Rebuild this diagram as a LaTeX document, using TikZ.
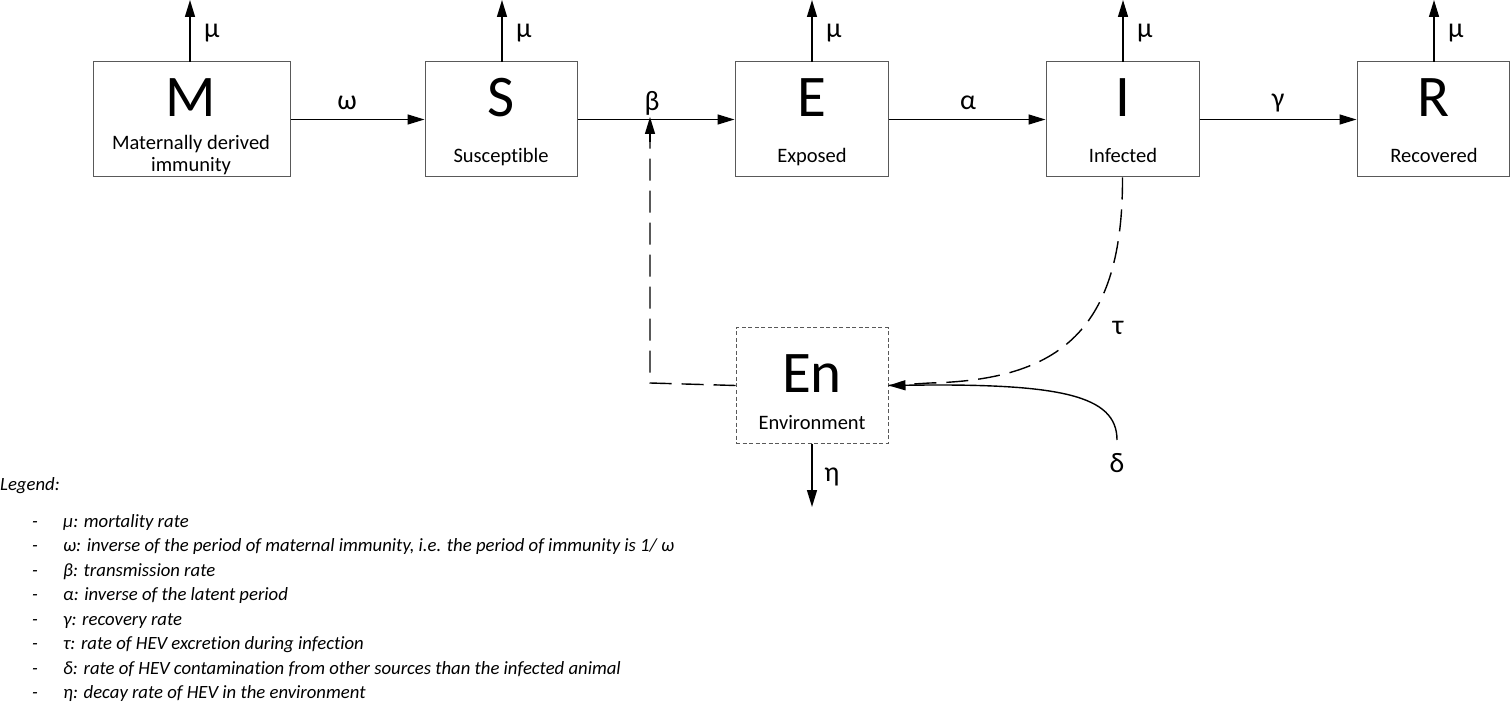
\documentclass[tikz,border=0pt]{standalone}
\usepackage{fontspec}
\setmainfont[Ligatures=NoCommon]{Carlito}
\usetikzlibrary{arrows.meta}
\begin{document}
\begin{tikzpicture}[x=1pt,y=-1pt,
  comp/.style={draw=black!65, line width=1pt, minimum height=115pt, inner sep=0pt},
  envbox/.style={comp, dash pattern=on 4pt off 2.5pt},
  big/.style={font=\fontsize{59}{59}\selectfont, anchor=base, inner sep=0pt},
  sub/.style={font=\fontsize{20.5}{24}\selectfont, anchor=base, inner sep=0pt},
  rate/.style={font=\fontsize{28}{28}\selectfont, inner sep=0pt},
  flow/.style={line width=1.4pt, -{Triangle[length=17pt,width=10pt]}},
  fb/.style={line width=1.4pt, dash pattern=on 22pt off 10pt},
  leg/.style={font=\fontsize{18.7}{19}\selectfont\itshape, anchor=base west, inner sep=0pt},
]
\useasboundingbox (0,0) rectangle (1510,703);

% compartments
\node[comp, minimum width=197pt] (M) at (191.5,119.5) {};
\node[comp, minimum width=152pt] (S) at (501,119.5) {};
\node[comp, minimum width=153pt] (E) at (811.5,119.5) {};
\node[comp, minimum width=153pt] (I) at (1122.5,119.5) {};
\node[comp, minimum width=152pt] (R) at (1433,119.5) {};
\node[envbox, minimum width=152pt] (En) at (812,385.5) {};

\node[big] (Mt) at (191,117) {M};
\node[big] (St) at (501,117) {S};
\node[big] (Et) at (812,117) {E};
\node[big] (It) at (1123,117) {I};
\node[big] (Rt) at (1434,117) {R};
\node[big] (Ent) at (812,392) {En};

\node[sub] (Ms1) at (191,150) {Maternally derived};
\node[sub] (Ms2) at (191,172) {immunity};
\node[sub] (Ss) at (501,163) {Susceptible};
\node[sub] (Es) at (812,163) {Exposed};
\node[sub] (Is) at (1123,163) {Infected};
\node[sub] (Rs) at (1434,163) {Recovered};
\node[sub] (Ens) at (812,429) {Environment};

% mortality
\foreach \n/\x in {M/190,S/502,E/812,I/1123,R/1434}{
  \coordinate (\n top) at (\x,0);
  \draw[flow] (\x,62) -- (\n top);
  \node[rate, anchor=west] at (\x+14,33) {μ};
}

% transitions
\draw[flow] (M.east) -- (S.west);
\draw[flow] (S.east) -- (E.west);
\draw[flow] (E.east) -- (I.west);
\draw[flow] (I.east) -- (R.west);
\node[rate] (lw) at (347,103) {ω};
\node[rate] (lb) at (652,103) {β};
\node[rate] (la) at (968,103) {α};
\node[rate] (lg) at (1278,103) {γ};

% environment feedback
\coordinate (beta) at (650,120);
\draw[fb] (En.west) -- (650,383) -- (650,140);
\draw[flow] (650,142) -- ([yshift=3pt]beta);

% excretion
\draw[fb] (I.south) .. controls (1123,330) and (1060,380) .. (930,383) -- (En.east);
\node[rate] (lt) at (1118,328) {τ};

% other sources
\node[rate] (ld) at (1117,463) {δ};
\draw[flow] (1117,440) .. controls (1117,395) and (1060,383) .. (En.east);

% decay
\coordinate (etaend) at (812,507);
\draw[flow] (En.south) -- (etaend);
\node[rate] (le) at (832,477) {η};

% legend
\node[leg] (Lg) at (0,490) {Legend:};
\foreach \y/\t in {527/{μ: mortality rate},
  551/{ω: inverse of the period of maternal immunity, i.e. the period of immunity is 1/ ω},
  576/{β: transmission rate},
  600/{α: inverse of the latent period},
  625/{γ: recovery rate},
  649/{τ: rate of HEV excretion during infection},
  674/{δ: rate of HEV contamination from other sources than the infected animal},
  698/{η: decay rate of HEV in the environment}}{
  \node[leg] at (32,\y) {-};
  \node[leg] at (63,\y) {\t};
}
\end{tikzpicture}
\end{document}
